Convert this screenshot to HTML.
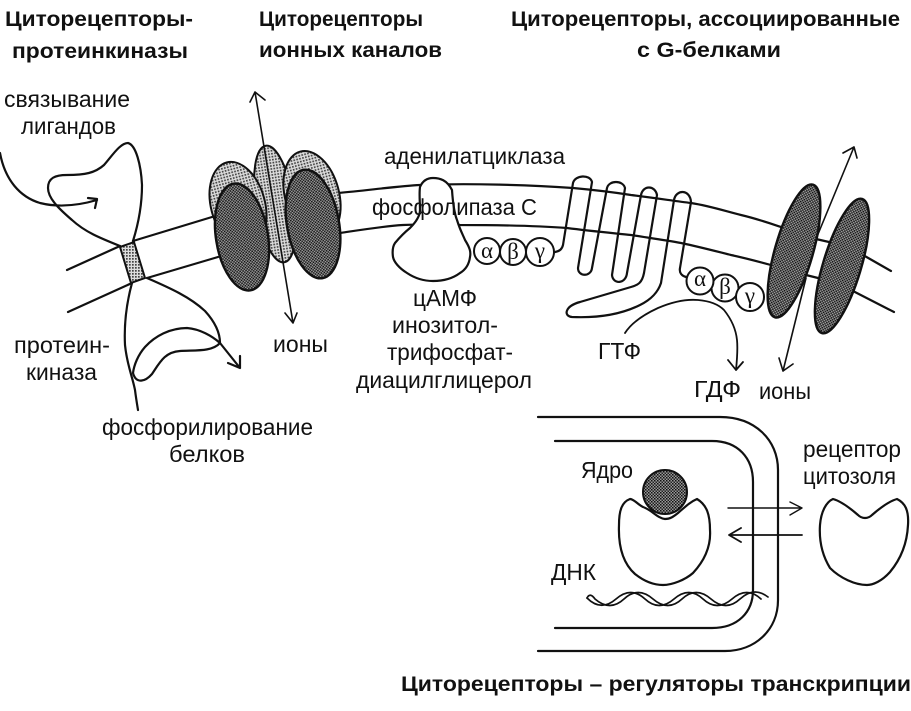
<!DOCTYPE html>
<html lang="ru"><head><meta charset="utf-8"><style>
html,body{margin:0;padding:0;background:#fff;width:911px;height:711px;overflow:hidden}
svg{display:block}
text{font-family:"Liberation Sans",sans-serif;font-size:23.5px;fill:#111}
.b{font-weight:bold;font-size:21px}
.l{fill:none;stroke:#111;stroke-width:2.2;stroke-linecap:round;stroke-linejoin:round}
.t{fill:none;stroke:#111;stroke-width:1.4;stroke-linecap:round;stroke-linejoin:round}
.g{font-family:"Liberation Serif",serif;font-size:23px;text-anchor:middle}
</style></head><body>
<svg width="911" height="711" viewBox="0 0 911 711" xmlns="http://www.w3.org/2000/svg">
<defs>
<pattern id="d" width="3" height="3" patternUnits="userSpaceOnUse"><rect width="3" height="3" fill="#999"/><rect width="1.5" height="1.5" fill="#111"/><rect x="1.5" y="1.5" width="1.5" height="1.5" fill="#222"/></pattern>
<pattern id="s" width="3" height="3" patternUnits="userSpaceOnUse"><rect width="3" height="3" fill="#ddd"/><rect width="1.7" height="1.7" fill="#444"/></pattern>
</defs>

<!-- headers -->
<text class="b" x="5" y="26" textLength="188" lengthAdjust="spacingAndGlyphs">Циторецепторы-</text>
<text class="b" x="12" y="58" textLength="176" lengthAdjust="spacingAndGlyphs">протеинкиназы</text>
<text class="b" x="259" y="26" textLength="164" lengthAdjust="spacingAndGlyphs">Циторецепторы</text>
<text class="b" x="259" y="57" textLength="183" lengthAdjust="spacingAndGlyphs">ионных каналов</text>
<text class="b" x="511" y="26" textLength="389" lengthAdjust="spacingAndGlyphs">Циторецепторы, ассоциированные</text>
<text class="b" x="637" y="57" textLength="144" lengthAdjust="spacingAndGlyphs">с G-белками</text>
<text class="b" x="401" y="691" textLength="510" lengthAdjust="spacingAndGlyphs">Циторецепторы – регуляторы транскрипции</text>

<!-- membranes -->
<path class="l" d="M67 270 L120 246 M133 241 L212 217 M68 312 L132 283 M147 278 L218 257"/>
<path class="l" d="M338 193 C370 190 400 186 420 185 C470 183 530 185 573 188 C595 190 612 192 631 195 C655 198 675 201 691 203 C710 206 725 211 741 215 C758 219 772 224 784 228"/>
<path class="l" d="M340 233 C360 230 385 226 403 225 C430 224 445 224 460 225 C500 225 540 226 567 228 C590 231 612 233 631 235 C650 238 665 240 681 243 C700 247 715 251 731 255 C745 258 760 262 771 265"/>
<path class="l" d="M816 239 L829 242 M806 275 L818 278 M863 255 L891 271 M851 290 L894 312"/>

<!-- protein kinase -->
<polygon points="120,247 134,242 145,278 131,283" fill="url(#s)" stroke="#111" stroke-width="2"/>
<path class="l" d="M120 246 C100 238 85 232 72 220 C58 208 48 198 48 188 C48 178 55 175 67 175 C85 175 95 173 104 165 C112 156 120 143 128 143 C136 145 141 165 142 185 C142 205 138 225 133 241"/>
<path class="l" d="M0 153 C5 180 20 197 40 203 C60 208 80 205 97 200 M88 198 L97 199 L95 208"/>
<path class="l" d="M132 283 C126 305 124 325 125 345 C127 365 132 375 135 390 C136 398 137 404 138 410"/>
<path class="l" d="M147 278 C170 288 190 297 205 311 C215 322 220 333 220 343 L240 368 M228 363 L240 368 L240 356"/>
<path class="l" d="M133 373 C136 384 145 382 152 374 C160 362 165 352 180 351 C195 350 212 352 220 343 C212 336 200 329 187 328 C170 328 155 336 145 347 C138 355 134 365 133 373Z"/>

<!-- ion channel -->
<ellipse cx="275" cy="204" rx="19" ry="59" transform="rotate(-9 275 204)" fill="url(#s)" stroke="#111" stroke-width="2"/>
<path class="l" style="stroke-width:1.6" d="M255 92 L293 323 M250 102 L255 92 L265 100 M285 313 L293 323 L297 313"/>
<ellipse cx="238" cy="205" rx="27" ry="44" transform="rotate(-15 238 205)" fill="url(#s)" stroke="#111" stroke-width="2"/>
<ellipse cx="312" cy="195" rx="27" ry="45" transform="rotate(-15 312 195)" fill="url(#s)" stroke="#111" stroke-width="2"/>
<ellipse cx="242" cy="237" rx="26" ry="54" transform="rotate(-9 242 237)" fill="url(#d)" stroke="#111" stroke-width="2.4"/>
<ellipse cx="313" cy="224" rx="26" ry="55" transform="rotate(-10 313 224)" fill="url(#d)" stroke="#111" stroke-width="2.4"/>

<!-- adenylate cyclase -->
<path d="M420 187 C423 180 428 178 433 178 C440 178 447 180 452 190 C453 205 455 215 457 220 C460 230 463 235 465 240 C470 248 471 252 470 257 C469 265 465 270 460 273 C452 279 443 281 433 281 C422 281 413 277 407 273 C399 268 394 262 393 257 C392 250 393 246 395 243 C400 237 405 232 410 228 C416 222 420 216 420 210 C420 202 419 194 420 187Z" fill="#fff" stroke="#111" stroke-width="2.2" stroke-linejoin="round"/>

<!-- G proteins left -->
<g fill="#fff" stroke="#111" stroke-width="2"><circle cx="487" cy="251" r="13"/><circle cx="513" cy="252" r="13"/><circle cx="540" cy="252" r="14"/></g>
<text class="g" x="487" y="258">α</text><text class="g" x="513" y="259">β</text><text class="g" x="540" y="258">γ</text>

<!-- GPCR -->
<path class="l" d="M555 252 C560 251 562 249 563 245 L573 183 C575 175 590 174 592 182 L578 268 C578 277 591 277 592 268 L607 188 C609 180 623 180 625 188 L612 275 C613 285 626 284 627 273 L641 195 C643 185 655 185 657 195 L644 273 C642 283 638 285 631 287 L580 302 C565 306 563 316 572 317 C595 318 620 315 640 305 C652 299 658 292 661 283 L674 200 C676 189 690 189 691 202 L680 268 C679 273 682 276 686 277"/>

<!-- G proteins right -->
<g fill="#fff" stroke="#111" stroke-width="2"><circle cx="725" cy="288" r="13.5"/><circle cx="700" cy="281" r="13.5"/><circle cx="750" cy="297" r="14"/></g>
<text class="g" x="700" y="286">α</text><text class="g" x="725" y="294">β</text><text class="g" x="750" y="303">γ</text>

<path class="l" style="stroke-width:1.8" d="M625 333 C632 322 645 314 658 308 C672 302 686 299 698 300 C710 301 718 304 724 310 C732 320 736 330 737 340 C738 350 737 360 736 370 M728 360 L736 370 L743 362"/>

<!-- right channel -->
<ellipse cx="794" cy="251" rx="19" ry="69" transform="rotate(16 794 251)" fill="url(#d)" stroke="#111" stroke-width="2.4"/>
<ellipse cx="842" cy="266" rx="19" ry="70" transform="rotate(16.7 842 266)" fill="url(#d)" stroke="#111" stroke-width="2.4"/>
<path class="l" style="stroke-width:1.6" d="M854 147 L816 239 M806 278 L783 371 M843 153 L854 147 L857 158 M779 358 L783 371 L793 364"/>

<!-- nucleus box -->
<path class="l" d="M538 417 L720 417 C755 417 778 440 778 470 L778 600 C778 630 755 651 725 651 L538 651"/>
<path class="l" d="M555 441 L712 441 C738 441 753 458 753 482 L753 590 C753 612 738 628 712 628 L555 628"/>
<path class="l" d="M665 519 C657 518 652 510 643 507 C637 504 634 499 630 499 C622 502 619 510 619 525 C618 550 625 565 635 574 C645 582 655 585 663 585 C672 585 685 580 693 573 C705 560 711 545 710 530 C710 515 707 505 697 499 C690 502 685 507 678 513 C673 517 670 519 665 519Z"/>
<circle cx="665" cy="492" r="22" fill="url(#d)" stroke="#111" stroke-width="2"/>
<path class="l" d="M833 499 C840 501 850 508 858 515 C862 519 868 519 872 515 C880 508 890 501 897 499 C905 503 909 510 908 525 C907 545 900 560 890 572 C882 581 873 585 867 585 C855 585 840 578 830 568 C822 555 819 540 820 525 C821 512 826 502 833 499Z"/>
<path class="t" d="M728 508 L802 508 M790 502 L802 508 L790 515"/>
<path class="l" style="stroke-width:1.8" d="M802 535 L729 535 M741 528 L729 535 L741 542"/>

<!-- DNA -->
<path class="t" style="stroke-width:1.7" d="M587 598 Q601 612 616 599 T645 599 T674 599 T703 599 T732 599 T761 599"/>
<path class="t" style="stroke-width:1.7" d="M587 598 Q590 592 595 599 Q610 612 624 599 T653 599 T682 599 T711 599 T740 599 T768 597"/>

<!-- labels -->
<text x="4" y="107" textLength="126" lengthAdjust="spacingAndGlyphs">связывание</text>
<text x="21" y="134" textLength="95" lengthAdjust="spacingAndGlyphs">лигандов</text>
<text x="14" y="353" textLength="96" lengthAdjust="spacingAndGlyphs">протеин-</text>
<text x="26" y="380" textLength="71" lengthAdjust="spacingAndGlyphs">киназа</text>
<text x="102" y="435" textLength="211" lengthAdjust="spacingAndGlyphs">фосфорилирование</text>
<text x="169" y="462" textLength="76" lengthAdjust="spacingAndGlyphs">белков</text>
<text x="273" y="352" textLength="55" lengthAdjust="spacingAndGlyphs">ионы</text>
<text x="384" y="164" textLength="181" lengthAdjust="spacingAndGlyphs">аденилатциклаза</text>
<text x="372" y="215" textLength="165" lengthAdjust="spacingAndGlyphs">фосфолипаза С</text>
<text x="413" y="306" textLength="64" lengthAdjust="spacingAndGlyphs">цАМФ</text>
<text x="392" y="333" textLength="106" lengthAdjust="spacingAndGlyphs">инозитол-</text>
<text x="387" y="360" textLength="126" lengthAdjust="spacingAndGlyphs">трифосфат-</text>
<text x="356" y="388" textLength="176" lengthAdjust="spacingAndGlyphs">диацилглицерол</text>
<text x="598" y="359" textLength="43" lengthAdjust="spacingAndGlyphs">ГТФ</text>
<text x="694" y="397" textLength="47" lengthAdjust="spacingAndGlyphs">ГДФ</text>
<text x="759" y="399" textLength="52" lengthAdjust="spacingAndGlyphs">ионы</text>
<text x="803" y="457" textLength="98" lengthAdjust="spacingAndGlyphs">рецептор</text>
<text x="803" y="484" textLength="93" lengthAdjust="spacingAndGlyphs">цитозоля</text>
<text x="581" y="478" textLength="52" lengthAdjust="spacingAndGlyphs">Ядро</text>
<text x="551" y="580" textLength="45" lengthAdjust="spacingAndGlyphs">ДНК</text>
</svg>
</body></html>
